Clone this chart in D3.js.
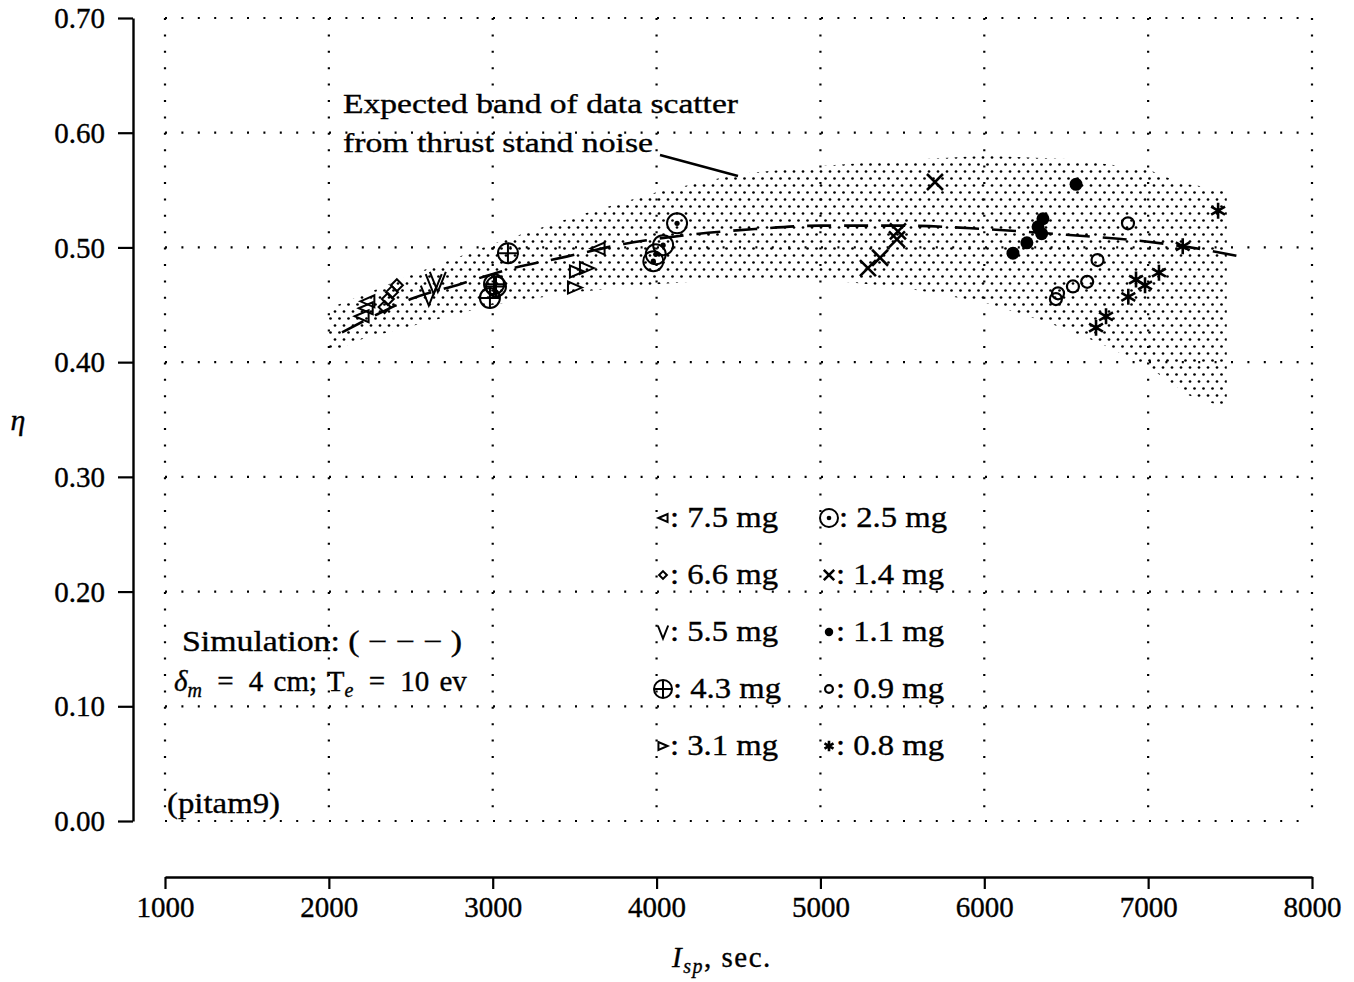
<!DOCTYPE html>
<html><head><meta charset="utf-8">
<script src="https://cdn.jsdelivr.net/npm/d3@7/dist/d3.min.js"></script>
<style>body{margin:0;background:#fff}svg{display:block}text{stroke:#000;stroke-width:0.35px}</style>
</head><body>
<svg id="chart" width="1354" height="982"></svg>
<script>
// ---------- data ----------
const xTicks = [1000,2000,3000,4000,5000,6000,7000,8000];
const yTicks = [0,0.1,0.2,0.3,0.4,0.5,0.6,0.7];
const yTickLabels = ["0.00","0.10","0.20","0.30","0.40","0.50","0.60","0.70"];

const simulation = [[2080,0.426],[2300,0.442],[2500,0.455],[2800,0.468],[3100,0.481],[3450,0.492],[3800,0.503],[4200,0.511],[4600,0.516],[5000,0.519],[5500,0.519],[6000,0.516],[6500,0.511],[7000,0.505],[7300,0.499],[7600,0.491]];

const bandUpper = [[2000,0.447],[2200,0.458],[2500,0.476],[3000,0.503],[3500,0.527],[4000,0.548],[4500,0.564],[5000,0.571],[5500,0.576],[6000,0.580],[6500,0.577],[7000,0.568],[7200,0.556],[7480,0.550]];
const bandLower = [[2000,0.408],[2200,0.420],[2600,0.435],[3000,0.450],[3500,0.461],[4000,0.468],[4500,0.473],[5000,0.472],[5500,0.465],[6000,0.452],[6400,0.434],[6700,0.417],[7000,0.396],[7250,0.371],[7480,0.360]];

const s75 = [[2200,0.440],[2225,0.447],[2235,0.453],[3640,0.499]];          // 7.5 mg
const s66 = [[2340,0.448],[2360,0.455],[2385,0.461],[2415,0.467]];          // 6.6 mg
const s55 = [[2610,0.458],[2640,0.468],[2665,0.470]];                       // 5.5 mg
const s43 = [[2983,0.456],[3008,0.468],[3020,0.466],[3093,0.495]];          // 4.3 mg
const s31 = [[3502,0.465],[3514,0.479],[3575,0.482]];                       // 3.1 mg
const s25 = [[3980,0.488],[3995,0.494],[4040,0.502],[4125,0.521]];          // 2.5 mg
const s14 = [[5290,0.482],[5364,0.491],[5467,0.507],[5473,0.514],[5699,0.557]]; // 1.4 mg
const s11 = [[6175,0.495],[6260,0.504],[6328,0.518],[6350,0.512],[6358,0.525],[6560,0.555]]; // 1.1 mg
const s09 = [[6437,0.455],[6450,0.460],[6541,0.466],[6628,0.470],[6691,0.489],[6877,0.521]]; // 0.9 mg
const s08 = [[6682,0.430],[6743,0.440],[6879,0.457],[6926,0.472],[6981,0.467],[7066,0.478],[7211,0.501],[7427,0.532]]; // 0.8 mg

const seriesNames = ["7.5 mg","6.6 mg","5.5 mg","4.3 mg","3.1 mg","2.5 mg","1.4 mg","1.1 mg","0.9 mg","0.8 mg"];
const seriesMarkers = ["ltri","diamond","vee","oplus","rtri","odot","cross","dot","circ","star"];
const seriesData = [s75,s66,s55,s43,s31,s25,s14,s11,s09,s08];

// ---------- drawing ----------
const svg = d3.select("#chart");
const FONT = "'Liberation Serif','DejaVu Serif',serif";
const x = d3.scaleLinear().domain([1000,8000]).range([165,1312]);
const y = d3.scaleLinear().domain([0,0.7]).range([821,18]);

// stipple pattern
const defs = svg.append("defs");
const pat = defs.append("pattern").attr("id","stip").attr("patternUnits","userSpaceOnUse")
  .attr("width",9).attr("height",14);
pat.append("circle").attr("cx",2).attr("cy",3.5).attr("r",1.35).attr("fill","#000");
pat.append("circle").attr("cx",6.5).attr("cy",10.5).attr("r",1.35).attr("fill","#000");

// grid (dotted)
const grid = svg.append("g").attr("stroke","#000").attr("stroke-width",2.2)
  .attr("stroke-dasharray","2,14.4").attr("fill","none");
xTicks.forEach(t => grid.append("line").attr("x1",x(t)).attr("x2",x(t)).attr("y1",y(0.7)).attr("y2",y(0)));
yTicks.forEach(t => grid.append("line").attr("x1",x(1000)).attr("x2",x(8000)).attr("y1",y(t)).attr("y2",y(t)));

// band
const bandPts = bandUpper.concat(bandLower.slice().reverse());
svg.append("path").attr("d", d3.line().x(d=>x(d[0])).y(d=>y(d[1]))(bandPts)+"Z")
  .attr("fill","url(#stip)").attr("stroke","none");

// simulation dashed line
svg.append("path").attr("d", d3.line().curve(d3.curveMonotoneX).x(d=>x(d[0])).y(d=>y(d[1]))(simulation))
  .attr("fill","none").attr("stroke","#000").attr("stroke-width",2.6).attr("stroke-dasharray","24,13");

// y axis
const yAxis = svg.append("g").attr("transform","translate(133,0)")
  .call(d3.axisLeft(y).tickValues(yTicks).tickFormat((d,i)=>yTickLabels[i]).tickSize(15).tickSizeOuter(0));
yAxis.select(".domain").attr("stroke-width",2.4);
yAxis.selectAll(".tick line").attr("stroke-width",2.2);
yAxis.selectAll(".tick text").attr("font-family",FONT).attr("font-size",29).attr("x",-28).attr("dy","0.33em").attr("fill","#000");

// x axis (offset below)
const xAxis = svg.append("g").attr("transform","translate(0,877)")
  .call(d3.axisBottom(x).tickValues(xTicks).tickFormat(d3.format("d")).tickSize(12).tickSizeOuter(0));
xAxis.select(".domain").attr("stroke-width",2.4);
xAxis.selectAll(".tick line").attr("stroke-width",2.2);
xAxis.selectAll(".tick text").attr("font-family",FONT).attr("font-size",29).attr("y",19).attr("fill","#000");

// markers
function marker(g, type, s) {
  const st = {stroke:"#000","stroke-width":2, fill:"none"};
  const ap = (el,o) => { Object.entries(Object.assign({},st,o||{})).forEach(([k,v])=>el.attr(k,v)); return el; };
  const k = s;
  switch(type){
    case "ltri": ap(g.append("path").attr("d",`M${-7*k},0L${7*k},${-6*k}L${7*k},${6*k}Z`)); break;
    case "rtri": ap(g.append("path").attr("d",`M${7*k},0L${-7*k},${-6*k}L${-7*k},${6*k}Z`)); break;
    case "diamond": ap(g.append("path").attr("d",`M0,${-6*k}L${6*k},0L0,${6*k}L${-6*k},0Z`)); break;
    case "vee": ap(g.append("path").attr("d",`M${-8*k},${-10*k}L0,${10*k}L${8*k},${-10*k}`)); break;
    case "oplus": ap(g.append("circle").attr("r",10*k));
      ap(g.append("path").attr("d",`M${-10*k},0H${10*k}M0,${-10*k}V${10*k}`)); break;
    case "odot": ap(g.append("circle").attr("r",10*k));
      g.append("circle").attr("r",2.6*k).attr("fill","#000"); break;
    case "cross": ap(g.append("path").attr("d",`M${-8*k},${-8*k}L${8*k},${8*k}M${8*k},${-8*k}L${-8*k},${8*k}`),{"stroke-width":2.6}); break;
    case "dot": g.append("circle").attr("r",6.5*k).attr("fill","#000"); break;
    case "circ": ap(g.append("circle").attr("r",6*k),{"stroke-width":2.2}); break;
    case "star": { let d=""; for(let i=0;i<3;i++){const a=Math.PI/2+i*Math.PI/3; d+=`M${-8*k*Math.cos(a)},${-8*k*Math.sin(a)}L${8*k*Math.cos(a)},${8*k*Math.sin(a)}`;}
      ap(g.append("path").attr("d",d),{"stroke-width":2.6}); break; }
  }
}
seriesData.forEach((arr,i) => {
  arr.forEach(d => {
    const g = svg.append("g").attr("transform",`translate(${x(d[0])},${y(d[1])})`);
    marker(g, seriesMarkers[i], 1);
  });
});

// legend
const legX = [663, 829];
const legY = [518, 575, 632, 689, 746];
seriesNames.forEach((name,i) => {
  const col = i < 5 ? 0 : 1, row = i % 5;
  const lx = legX[col], ly = legY[row];
  const g = svg.append("g").attr("transform",`translate(${lx},${ly})`);
  const big = (seriesMarkers[i]==="oplus"||seriesMarkers[i]==="odot");
  marker(g, seriesMarkers[i], big ? 0.9 : 0.65);
  svg.append("text").attr("x",lx+(big?10:7)).attr("y",ly+9).attr("font-family",FONT).attr("font-size",29)
    .attr("textLength",108).attr("lengthAdjust","spacingAndGlyphs")
    .text(": " + name);
});

// annotations
const ann = svg.append("g").attr("font-family",FONT).attr("font-size",27).attr("fill","#000");
ann.append("text").attr("x",343).attr("y",113).attr("textLength",395).attr("lengthAdjust","spacingAndGlyphs").text("Expected band of data scatter");
ann.append("text").attr("x",343).attr("y",152).attr("textLength",310).attr("lengthAdjust","spacingAndGlyphs").text("from thrust stand noise");
svg.append("line").attr("x1",660).attr("y1",155).attr("x2",738).attr("y2",176).attr("stroke","#000").attr("stroke-width",2.4);

svg.append("text").attr("x",182).attr("y",651).attr("font-family",FONT).attr("font-size",29)
  .attr("textLength",280).attr("lengthAdjust","spacingAndGlyphs").text("Simulation: ( − − − )");
const t2 = svg.append("text").attr("x",174).attr("y",691).attr("font-family",FONT).attr("font-size",29);
t2.append("tspan").attr("font-style","italic").text("δ");
t2.append("tspan").attr("font-style","italic").attr("font-size",20).attr("dy",6).text("m");
t2.append("tspan").attr("dy",-6).attr("word-spacing",8).text(" = 4");
t2.append("tspan").attr("word-spacing",3).text(" cm; T");
t2.append("tspan").attr("font-style","italic").attr("font-size",20).attr("dy",6).text("e");
t2.append("tspan").attr("dy",-6).attr("word-spacing",8).text(" = 10");
t2.append("tspan").attr("word-spacing",3).text(" ev");

svg.append("text").attr("x",167).attr("y",813).attr("font-family",FONT).attr("font-size",29)
  .attr("textLength",113).attr("lengthAdjust","spacingAndGlyphs").text("(pitam9)");

// axis titles
svg.append("text").attr("x",18).attr("y",430).attr("font-family",FONT).attr("font-style","italic").attr("font-size",30).attr("text-anchor","middle").text("η");
const xt = svg.append("text").attr("x",672).attr("y",967).attr("font-family",FONT).attr("font-size",29).attr("letter-spacing",1.5);
xt.append("tspan").attr("font-style","italic").text("I");
xt.append("tspan").attr("font-style","italic").attr("font-size",20).attr("dy",6).text("sp");
xt.append("tspan").attr("dy",-6).text(", sec.");
</script>
</body></html>
